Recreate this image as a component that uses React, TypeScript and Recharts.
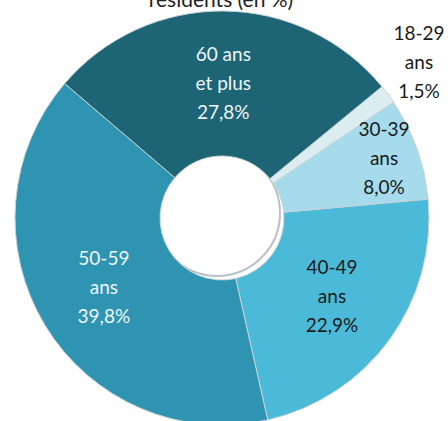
import { PieChart, Pie, Cell } from 'recharts'

const categories = ['18-29 ans', '30-39 ans', '40-49 ans', '50-59 ans', '60 ans et plus']
const labelLines = [
  ['18-29', 'ans'],
  ['30-39', 'ans'],
  ['40-49', 'ans'],
  ['50-59', 'ans'],
  ['60 ans', 'et plus'],
]
const shares = [1.5, 8.0, 22.9, 39.8, 27.8]

const COLORS = ['#dcedf1', '#a6dbec', '#4bbad8', '#2e94b1', '#1d6475']
const TEXT_COLORS = ['#1a1a1a', '#1a1a1a', '#1a1a1a', '#eef6f8', '#eef6f8']
// label distance from centre, per slice
const LABEL_R = [258, 172, 136, 138, 133]
const W = 448
const H = 421

const data = categories.map((name, i) => ({ name, value: shares[i] }))

const RADIAN = Math.PI / 180

function renderLabel(props: any) {
  const { cx, cy, midAngle, index } = props
  const r = LABEL_R[index]
  // keep outside labels inside the picture
  const x = Math.min(cx + r * Math.cos(-midAngle * RADIAN), W - 29)
  const y = cy + r * Math.sin(-midAngle * RADIAN)
  const lines = [...labelLines[index], shares[index].toFixed(1).replace('.', ',') + '%']
  return (
    <text
      x={x}
      y={y}
      textAnchor="middle"
      fill={TEXT_COLORS[index]}
      fontSize={19}
      fontFamily="Lato, sans-serif"
    >
      {lines.map((line, i) => (
        <tspan key={i} x={x} y={y + (i - 1) * 29 + 5}>
          {line}
        </tspan>
      ))}
    </text>
  )
}

export default function App() {
  return (
    <div style={{ position: 'absolute', left: 0, top: 0, width: W, height: H, background: '#fff' }}>
      <PieChart width={W} height={H}>
        <text
          x={221}
          y={7}
          textAnchor="middle"
          fontSize={21}
          fill="#222"
          fontFamily="Lato, sans-serif"
        >
          résidents (en %)
        </text>
        <circle cx={217} cy={213} r={63} fill="none" stroke="#b8c2c5" strokeWidth={2} />
        <Pie
          data={data}
          dataKey="value"
          nameKey="name"
          cx={217}
          cy={213}
          innerRadius={62}
          outerRadius={207}
          startAngle={39.4}
          endAngle={-320.6}
          stroke="#c9d3d6"
          strokeWidth={1}
          label={renderLabel}
          labelLine={false}
          isAnimationActive={false}
        >
          {data.map((entry, index) => (
            <Cell key={`cell-${index}`} fill={COLORS[index]} />
          ))}
        </Pie>
      </PieChart>
    </div>
  )
}
